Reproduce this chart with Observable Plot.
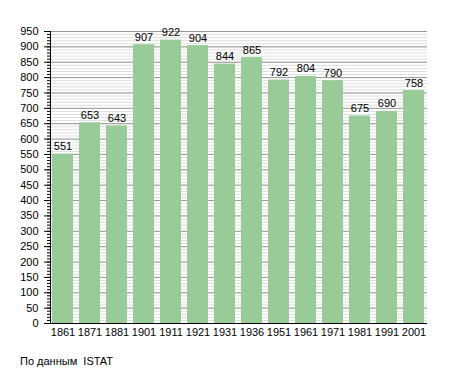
<!DOCTYPE html>
<html>
<head>
<meta charset="utf-8">
<script src="https://cdn.jsdelivr.net/npm/d3@7"></script>
<script src="https://cdn.jsdelivr.net/npm/@observablehq/plot@0.6"></script>
<style>
  body { margin: 0; background: #fff; font-family: "Liberation Sans", Arial, sans-serif; }
  #caption { font-size: 11px; color: #000; padding-left: 20px; margin-top: 10px; white-space: pre; }
</style>
</head>
<body>
<div id="chart"></div>
<div id="caption">По данным  ISTAT</div>
<script>
const years = ["1861","1871","1881","1901","1911","1921","1931","1936","1951","1961","1971","1981","1991","2001"];
const population = [551, 653, 643, 907, 922, 904, 844, 865, 792, 804, 790, 675, 690, 758];
const majorTicks = [0,50,100,150,200,250,300,350,400,450,500,550,600,650,700,750,800,850,900,950];
const minorTicks = d3.range(0, 951, 10);

const data = years.map((y, i) => ({year: y, value: population[i]}));

const chart = Plot.plot({
  width: 455,
  height: 345,
  marginTop: 31,
  marginBottom: 22,
  marginLeft: 50,
  marginRight: 28,
  style: {fontFamily: "Liberation Sans, Arial, sans-serif", fontSize: "11px", color: "#000", background: "#fff"},
  x: {domain: years, paddingInner: 0.22, paddingOuter: 0, label: null},
  y: {domain: [0, 950], label: null},
  marks: [
    Plot.ruleY(minorTicks, {stroke: "#dedede", strokeWidth: 1}),
    Plot.ruleY(majorTicks, {stroke: "#999999", strokeWidth: 1}),
    Plot.barY(data, {x: "year", y: "value", fill: "#98cb98"}),
    Plot.text(data, {x: "year", y: "value", text: d => String(d.value), lineAnchor: "bottom", dy: -4, fill: "#000", fontSize: 11}),
    Plot.axisY({ticks: minorTicks, tickSize: 3, tickFormat: () => "", stroke: "#000"}),
    Plot.axisY({ticks: majorTicks, tickSize: 6, tickPadding: 6, stroke: "#000", fontSize: 11}),
    Plot.axisX({tickSize: 0, tickPadding: 5, fontSize: 11}),
    Plot.frame({anchor: "left", stroke: "#000"}),
    Plot.ruleY([0], {stroke: "#000"})
  ]
});
document.getElementById("chart").appendChild(chart);
</script>
</body>
</html>
